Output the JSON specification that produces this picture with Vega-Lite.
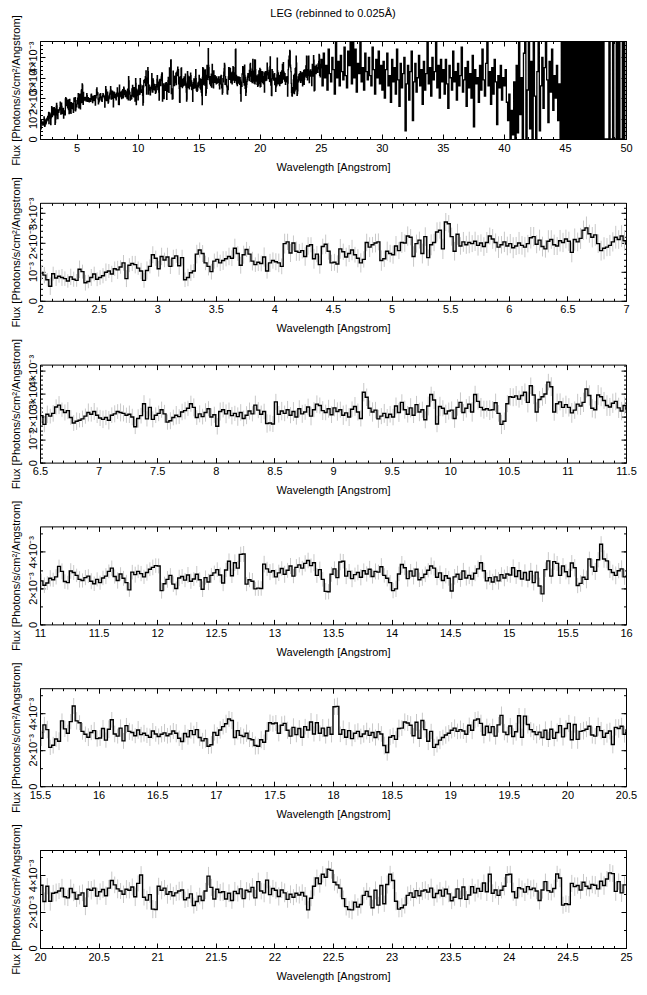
{
"$schema":"https://vega.github.io/schema/vega-lite/v6.json",
"background":"white",
"padding":{"left":9,"top":8,"right":10,"bottom":8},
"title":{"text":"LEG (rebinned to 0.025Å)","fontSize":11,"fontWeight":"normal","font":"Liberation Sans","color":"#000","anchor":"middle","frame":"group","offset":-5},
"bounds":"flush",
"spacing":63.8,
"config":{"view":{"stroke":"#000","strokeWidth":1},"axis":{"domain":false,"grid":false,"labelFont":"Liberation Sans","titleFont":"Liberation Sans","labelFontSize":11,"titleFontSize":11,"titleFontWeight":"normal","labelColor":"#000","titleColor":"#000","tickColor":"#000","labelOverlap":false,"labelFlush":false,"labelBound":false}},
"data":{"name":"d"},
"datasets":{"d":[
{"w":2.0125,"f":0.95,"e":0.25},{"w":2.0375,"f":0.88,"e":0.28},{"w":2.0625,"f":0.72,"e":0.23},{"w":2.0875,"f":0.50,"e":0.30},{"w":2.1125,"f":0.93,"e":0.24},{"w":2.1375,"f":0.78,"e":0.27},{"w":2.1625,"f":0.84,"e":0.22},{"w":2.1875,"f":0.80,"e":0.29},{"w":2.2125,"f":0.76,"e":0.25},{"w":2.2375,"f":0.68,"e":0.23},{"w":2.2625,"f":0.82,"e":0.28},{"w":2.2875,"f":0.74,"e":0.26},{"w":2.3125,"f":0.70,"e":0.22},{"w":2.3375,"f":1.08,"e":0.30},{"w":2.3625,"f":1.00,"e":0.24},{"w":2.3875,"f":0.62,"e":0.27},{"w":2.4125,"f":0.66,"e":0.23},{"w":2.4375,"f":0.80,"e":0.29},{"w":2.4625,"f":0.92,"e":0.25},{"w":2.4875,"f":0.74,"e":0.24},
{"w":2.5125,"f":0.80,"e":0.25},{"w":2.5375,"f":0.86,"e":0.26},{"w":2.5625,"f":0.98,"e":0.30},{"w":2.5875,"f":1.02,"e":0.24},{"w":2.6125,"f":0.92,"e":0.28},{"w":2.6375,"f":1.10,"e":0.25},{"w":2.6625,"f":1.06,"e":0.31},{"w":2.6875,"f":1.16,"e":0.23},{"w":2.7125,"f":1.30,"e":0.27},{"w":2.7375,"f":0.76,"e":0.29},{"w":2.7625,"f":1.22,"e":0.24},{"w":2.7875,"f":1.28,"e":0.26},{"w":2.8125,"f":1.24,"e":0.30},{"w":2.8375,"f":1.12,"e":0.23},{"w":2.8625,"f":1.02,"e":0.28},{"w":2.8875,"f":0.70,"e":0.25},{"w":2.9125,"f":1.04,"e":0.31},{"w":2.9375,"f":1.18,"e":0.24},{"w":2.9625,"f":1.58,"e":0.29},{"w":2.9875,"f":1.46,"e":0.26},
{"w":3.0125,"f":1.10,"e":0.27},{"w":3.0375,"f":1.52,"e":0.30},{"w":3.0625,"f":1.40,"e":0.25},{"w":3.0875,"f":1.50,"e":0.32},{"w":3.1125,"f":1.18,"e":0.26},{"w":3.1375,"f":1.46,"e":0.29},{"w":3.1625,"f":1.54,"e":0.24},{"w":3.1875,"f":1.20,"e":0.31},{"w":3.2125,"f":1.48,"e":0.27},{"w":3.2375,"f":0.72,"e":0.25},{"w":3.2625,"f":0.80,"e":0.30},{"w":3.2875,"f":0.96,"e":0.28},{"w":3.3125,"f":1.02,"e":0.24},{"w":3.3375,"f":1.60,"e":0.32},{"w":3.3625,"f":1.74,"e":0.26},{"w":3.3875,"f":1.62,"e":0.29},{"w":3.4125,"f":1.30,"e":0.25},{"w":3.4375,"f":1.18,"e":0.31},{"w":3.4625,"f":1.00,"e":0.27},{"w":3.4875,"f":1.36,"e":0.26},
{"w":3.5125,"f":1.42,"e":0.27},{"w":3.5375,"f":1.30,"e":0.28},{"w":3.5625,"f":1.38,"e":0.32},{"w":3.5875,"f":1.44,"e":0.26},{"w":3.6125,"f":1.52,"e":0.30},{"w":3.6375,"f":1.46,"e":0.27},{"w":3.6625,"f":1.80,"e":0.33},{"w":3.6875,"f":1.62,"e":0.25},{"w":3.7125,"f":1.22,"e":0.29},{"w":3.7375,"f":1.58,"e":0.31},{"w":3.7625,"f":1.76,"e":0.26},{"w":3.7875,"f":1.60,"e":0.28},{"w":3.8125,"f":1.36,"e":0.32},{"w":3.8375,"f":1.24,"e":0.25},{"w":3.8625,"f":1.32,"e":0.30},{"w":3.8875,"f":1.28,"e":0.27},{"w":3.9125,"f":1.50,"e":0.33},{"w":3.9375,"f":1.02,"e":0.26},{"w":3.9625,"f":1.30,"e":0.31},{"w":3.9875,"f":1.38,"e":0.28},
{"w":4.0125,"f":1.34,"e":0.29},{"w":4.0375,"f":1.30,"e":0.32},{"w":4.0625,"f":1.18,"e":0.27},{"w":4.0875,"f":1.96,"e":0.34},{"w":4.1125,"f":2.02,"e":0.28},{"w":4.1375,"f":1.64,"e":0.31},{"w":4.1625,"f":1.98,"e":0.26},{"w":4.1875,"f":1.70,"e":0.33},{"w":4.2125,"f":1.66,"e":0.29},{"w":4.2375,"f":1.72,"e":0.27},{"w":4.2625,"f":1.52,"e":0.32},{"w":4.2875,"f":1.88,"e":0.30},{"w":4.3125,"f":1.92,"e":0.26},{"w":4.3375,"f":1.44,"e":0.34},{"w":4.3625,"f":1.60,"e":0.28},{"w":4.3875,"f":1.24,"e":0.31},{"w":4.4125,"f":1.86,"e":0.27},{"w":4.4375,"f":1.94,"e":0.33},{"w":4.4625,"f":1.70,"e":0.29},{"w":4.4875,"f":1.30,"e":0.28},
{"w":4.5125,"f":1.32,"e":0.29},{"w":4.5375,"f":1.26,"e":0.30},{"w":4.5625,"f":1.78,"e":0.34},{"w":4.5875,"f":1.68,"e":0.28},{"w":4.6125,"f":1.50,"e":0.32},{"w":4.6375,"f":1.62,"e":0.29},{"w":4.6625,"f":1.74,"e":0.35},{"w":4.6875,"f":1.58,"e":0.27},{"w":4.7125,"f":1.46,"e":0.31},{"w":4.7375,"f":1.30,"e":0.33},{"w":4.7625,"f":1.42,"e":0.28},{"w":4.7875,"f":2.00,"e":0.30},{"w":4.8125,"f":1.84,"e":0.34},{"w":4.8375,"f":1.92,"e":0.27},{"w":4.8625,"f":1.98,"e":0.32},{"w":4.8875,"f":2.02,"e":0.29},{"w":4.9125,"f":1.38,"e":0.35},{"w":4.9375,"f":1.44,"e":0.28},{"w":4.9625,"f":1.70,"e":0.33},{"w":4.9875,"f":1.62,"e":0.30},
{"w":5.0125,"f":1.58,"e":0.31},{"w":5.0375,"f":1.88,"e":0.34},{"w":5.0625,"f":1.72,"e":0.29},{"w":5.0875,"f":2.00,"e":0.36},{"w":5.1125,"f":1.98,"e":0.30},{"w":5.1375,"f":2.22,"e":0.33},{"w":5.1625,"f":2.18,"e":0.28},{"w":5.1875,"f":1.52,"e":0.35},{"w":5.2125,"f":1.96,"e":0.31},{"w":5.2375,"f":2.08,"e":0.29},{"w":5.2625,"f":1.62,"e":0.34},{"w":5.2875,"f":2.20,"e":0.32},{"w":5.3125,"f":1.48,"e":0.28},{"w":5.3375,"f":1.92,"e":0.36},{"w":5.3625,"f":2.00,"e":0.30},{"w":5.3875,"f":2.36,"e":0.33},{"w":5.4125,"f":2.42,"e":0.29},{"w":5.4375,"f":1.78,"e":0.35},{"w":5.4625,"f":2.70,"e":0.31},{"w":5.4875,"f":2.64,"e":0.30},
{"w":5.5125,"f":2.20,"e":0.31},{"w":5.5375,"f":1.70,"e":0.32},{"w":5.5625,"f":2.28,"e":0.36},{"w":5.5875,"f":1.88,"e":0.30},{"w":5.6125,"f":2.02,"e":0.34},{"w":5.6375,"f":1.92,"e":0.31},{"w":5.6625,"f":2.00,"e":0.37},{"w":5.6875,"f":1.96,"e":0.29},{"w":5.7125,"f":2.04,"e":0.33},{"w":5.7375,"f":1.90,"e":0.35},{"w":5.7625,"f":1.98,"e":0.30},{"w":5.7875,"f":1.86,"e":0.32},{"w":5.8125,"f":2.00,"e":0.36},{"w":5.8375,"f":2.22,"e":0.29},{"w":5.8625,"f":2.12,"e":0.34},{"w":5.8875,"f":2.00,"e":0.31},{"w":5.9125,"f":1.84,"e":0.37},{"w":5.9375,"f":1.92,"e":0.30},{"w":5.9625,"f":2.02,"e":0.35},{"w":5.9875,"f":1.88,"e":0.32},
{"w":6.0125,"f":1.96,"e":0.33},{"w":6.0375,"f":1.82,"e":0.36},{"w":6.0625,"f":1.88,"e":0.31},{"w":6.0875,"f":1.98,"e":0.38},{"w":6.1125,"f":1.90,"e":0.32},{"w":6.1375,"f":1.84,"e":0.35},{"w":6.1625,"f":1.96,"e":0.30},{"w":6.1875,"f":2.16,"e":0.37},{"w":6.2125,"f":2.20,"e":0.33},{"w":6.2375,"f":1.94,"e":0.31},{"w":6.2625,"f":2.08,"e":0.36},{"w":6.2875,"f":1.86,"e":0.34},{"w":6.3125,"f":1.78,"e":0.30},{"w":6.3375,"f":2.04,"e":0.38},{"w":6.3625,"f":2.10,"e":0.32},{"w":6.3875,"f":1.92,"e":0.35},{"w":6.4125,"f":1.88,"e":0.31},{"w":6.4375,"f":2.06,"e":0.37},{"w":6.4625,"f":2.00,"e":0.33},{"w":6.4875,"f":2.12,"e":0.32},
{"w":6.5125,"f":2.04,"e":0.33},{"w":6.5375,"f":1.66,"e":0.34},{"w":6.5625,"f":2.10,"e":0.38},{"w":6.5875,"f":2.02,"e":0.32},{"w":6.6125,"f":2.14,"e":0.36},{"w":6.6375,"f":2.42,"e":0.33},{"w":6.6625,"f":2.50,"e":0.39},{"w":6.6875,"f":2.30,"e":0.31},{"w":6.7125,"f":2.18,"e":0.35},{"w":6.7375,"f":2.26,"e":0.37},{"w":6.7625,"f":1.96,"e":0.32},{"w":6.7875,"f":1.72,"e":0.34},{"w":6.8125,"f":1.80,"e":0.38},{"w":6.8375,"f":1.84,"e":0.31},{"w":6.8625,"f":1.90,"e":0.36},{"w":6.8875,"f":2.02,"e":0.33},{"w":6.9125,"f":2.18,"e":0.39},{"w":6.9375,"f":2.10,"e":0.32},{"w":6.9625,"f":2.22,"e":0.37},{"w":6.9875,"f":2.06,"e":0.34},
{"w":7.0125,"f":1.94,"e":0.35},{"w":7.0375,"f":1.88,"e":0.38},{"w":7.0625,"f":1.96,"e":0.33},{"w":7.0875,"f":1.84,"e":0.40},{"w":7.1125,"f":2.06,"e":0.34},{"w":7.1375,"f":2.12,"e":0.37},{"w":7.1625,"f":2.22,"e":0.32},{"w":7.1875,"f":2.18,"e":0.39},{"w":7.2125,"f":2.14,"e":0.35},{"w":7.2375,"f":2.06,"e":0.33},{"w":7.2625,"f":2.10,"e":0.38},{"w":7.2875,"f":1.98,"e":0.36},{"w":7.3125,"f":1.56,"e":0.32},{"w":7.3375,"f":1.92,"e":0.40},{"w":7.3625,"f":2.04,"e":0.34},{"w":7.3875,"f":2.56,"e":0.37},{"w":7.4125,"f":1.90,"e":0.33},{"w":7.4375,"f":2.40,"e":0.39},{"w":7.4625,"f":1.88,"e":0.35},{"w":7.4875,"f":2.06,"e":0.34},
{"w":7.5125,"f":2.14,"e":0.34},{"w":7.5375,"f":2.30,"e":0.35},{"w":7.5625,"f":2.12,"e":0.39},{"w":7.5875,"f":1.76,"e":0.33},{"w":7.6125,"f":1.82,"e":0.37},{"w":7.6375,"f":1.96,"e":0.34},{"w":7.6625,"f":2.06,"e":0.40},{"w":7.6875,"f":2.00,"e":0.32},{"w":7.7125,"f":2.20,"e":0.36},{"w":7.7375,"f":2.26,"e":0.38},{"w":7.7625,"f":2.36,"e":0.33},{"w":7.7875,"f":2.56,"e":0.35},{"w":7.8125,"f":2.40,"e":0.39},{"w":7.8375,"f":1.96,"e":0.32},{"w":7.8625,"f":2.12,"e":0.37},{"w":7.8875,"f":2.00,"e":0.34},{"w":7.9125,"f":2.18,"e":0.40},{"w":7.9375,"f":2.34,"e":0.33},{"w":7.9625,"f":1.98,"e":0.38},{"w":7.9875,"f":2.08,"e":0.35},
{"w":8.0125,"f":1.58,"e":0.36},{"w":8.0375,"f":2.22,"e":0.39},{"w":8.0625,"f":2.30,"e":0.34},{"w":8.0875,"f":2.12,"e":0.41},{"w":8.1125,"f":2.26,"e":0.35},{"w":8.1375,"f":2.04,"e":0.38},{"w":8.1625,"f":2.14,"e":0.33},{"w":8.1875,"f":2.00,"e":0.40},{"w":8.2125,"f":2.18,"e":0.36},{"w":8.2375,"f":1.92,"e":0.34},{"w":8.2625,"f":2.06,"e":0.39},{"w":8.2875,"f":2.24,"e":0.37},{"w":8.3125,"f":2.12,"e":0.33},{"w":8.3375,"f":2.50,"e":0.41},{"w":8.3625,"f":2.28,"e":0.35},{"w":8.3875,"f":2.10,"e":0.38},{"w":8.4125,"f":2.22,"e":0.34},{"w":8.4375,"f":1.70,"e":0.40},{"w":8.4625,"f":1.72,"e":0.36},{"w":8.4875,"f":1.68,"e":0.35},
{"w":8.5125,"f":2.64,"e":0.35},{"w":8.5375,"f":2.10,"e":0.36},{"w":8.5625,"f":2.24,"e":0.40},{"w":8.5875,"f":2.14,"e":0.34},{"w":8.6125,"f":2.30,"e":0.38},{"w":8.6375,"f":2.06,"e":0.35},{"w":8.6625,"f":2.22,"e":0.41},{"w":8.6875,"f":1.98,"e":0.33},{"w":8.7125,"f":2.34,"e":0.37},{"w":8.7375,"f":2.12,"e":0.39},{"w":8.7625,"f":2.20,"e":0.34},{"w":8.7875,"f":2.42,"e":0.36},{"w":8.8125,"f":2.02,"e":0.40},{"w":8.8375,"f":2.30,"e":0.33},{"w":8.8625,"f":2.54,"e":0.38},{"w":8.8875,"f":2.48,"e":0.35},{"w":8.9125,"f":2.26,"e":0.41},{"w":8.9375,"f":2.18,"e":0.34},{"w":8.9625,"f":2.34,"e":0.39},{"w":8.9875,"f":2.08,"e":0.36},
{"w":9.0125,"f":2.38,"e":0.37},{"w":9.0375,"f":2.22,"e":0.40},{"w":9.0625,"f":2.30,"e":0.35},{"w":9.0875,"f":2.06,"e":0.42},{"w":9.1125,"f":2.16,"e":0.36},{"w":9.1375,"f":1.98,"e":0.39},{"w":9.1625,"f":2.32,"e":0.34},{"w":9.1875,"f":2.44,"e":0.41},{"w":9.2125,"f":2.20,"e":0.37},{"w":9.2375,"f":1.92,"e":0.35},{"w":9.2625,"f":3.06,"e":0.40},{"w":9.2875,"f":2.84,"e":0.38},{"w":9.3125,"f":2.36,"e":0.34},{"w":9.3375,"f":2.20,"e":0.42},{"w":9.3625,"f":2.28,"e":0.36},{"w":9.3875,"f":1.90,"e":0.39},{"w":9.4125,"f":2.02,"e":0.35},{"w":9.4375,"f":2.14,"e":0.41},{"w":9.4625,"f":1.96,"e":0.37},{"w":9.4875,"f":2.10,"e":0.36},
{"w":9.5125,"f":1.98,"e":0.36},{"w":9.5375,"f":2.46,"e":0.37},{"w":9.5625,"f":2.18,"e":0.41},{"w":9.5875,"f":2.62,"e":0.35},{"w":9.6125,"f":2.30,"e":0.39},{"w":9.6375,"f":2.10,"e":0.36},{"w":9.6625,"f":2.38,"e":0.42},{"w":9.6875,"f":2.06,"e":0.34},{"w":9.7125,"f":2.52,"e":0.38},{"w":9.7375,"f":2.20,"e":0.40},{"w":9.7625,"f":2.30,"e":0.35},{"w":9.7875,"f":1.86,"e":0.37},{"w":9.8125,"f":2.46,"e":0.41},{"w":9.8375,"f":2.96,"e":0.34},{"w":9.8625,"f":2.72,"e":0.39},{"w":9.8875,"f":1.68,"e":0.36},{"w":9.9125,"f":2.44,"e":0.42},{"w":9.9375,"f":2.36,"e":0.35},{"w":9.9625,"f":2.12,"e":0.40},{"w":9.9875,"f":2.24,"e":0.37},
{"w":10.0125,"f":2.28,"e":0.38},{"w":10.0375,"f":1.92,"e":0.41},{"w":10.0625,"f":2.40,"e":0.36},{"w":10.0875,"f":2.62,"e":0.43},{"w":10.1125,"f":2.18,"e":0.37},{"w":10.1375,"f":2.36,"e":0.40},{"w":10.1625,"f":2.54,"e":0.35},{"w":10.1875,"f":2.20,"e":0.42},{"w":10.2125,"f":2.96,"e":0.38},{"w":10.2375,"f":2.66,"e":0.36},{"w":10.2625,"f":2.40,"e":0.41},{"w":10.2875,"f":2.30,"e":0.39},{"w":10.3125,"f":2.34,"e":0.35},{"w":10.3375,"f":2.28,"e":0.43},{"w":10.3625,"f":2.30,"e":0.37},{"w":10.3875,"f":2.60,"e":0.40},{"w":10.4125,"f":2.14,"e":0.36},{"w":10.4375,"f":1.66,"e":0.42},{"w":10.4625,"f":1.80,"e":0.38},{"w":10.4875,"f":2.56,"e":0.37},
{"w":10.5125,"f":2.86,"e":0.38},{"w":10.5375,"f":2.84,"e":0.39},{"w":10.5625,"f":2.90,"e":0.43},{"w":10.5875,"f":2.76,"e":0.37},{"w":10.6125,"f":2.92,"e":0.41},{"w":10.6375,"f":3.06,"e":0.38},{"w":10.6625,"f":2.62,"e":0.44},{"w":10.6875,"f":3.34,"e":0.36},{"w":10.7125,"f":2.94,"e":0.40},{"w":10.7375,"f":2.20,"e":0.42},{"w":10.7625,"f":2.74,"e":0.37},{"w":10.7875,"f":2.86,"e":0.39},{"w":10.8125,"f":2.98,"e":0.43},{"w":10.8375,"f":3.50,"e":0.36},{"w":10.8625,"f":3.30,"e":0.41},{"w":10.8875,"f":2.20,"e":0.38},{"w":10.9125,"f":2.56,"e":0.44},{"w":10.9375,"f":2.64,"e":0.37},{"w":10.9625,"f":2.40,"e":0.42},{"w":10.9875,"f":2.52,"e":0.39},
{"w":11.0125,"f":2.40,"e":0.40},{"w":11.0375,"f":2.16,"e":0.43},{"w":11.0625,"f":2.28,"e":0.38},{"w":11.0875,"f":2.54,"e":0.45},{"w":11.1125,"f":2.46,"e":0.39},{"w":11.1375,"f":2.62,"e":0.42},{"w":11.1625,"f":3.20,"e":0.37},{"w":11.1875,"f":2.92,"e":0.44},{"w":11.2125,"f":2.36,"e":0.40},{"w":11.2375,"f":2.30,"e":0.38},{"w":11.2625,"f":2.94,"e":0.43},{"w":11.2875,"f":2.86,"e":0.41},{"w":11.3125,"f":2.70,"e":0.37},{"w":11.3375,"f":2.48,"e":0.45},{"w":11.3625,"f":2.42,"e":0.39},{"w":11.3875,"f":2.58,"e":0.42},{"w":11.4125,"f":2.66,"e":0.38},{"w":11.4375,"f":2.38,"e":0.44},{"w":11.4625,"f":2.24,"e":0.40},{"w":11.4875,"f":2.48,"e":0.39},
{"w":11.5125,"f":2.30,"e":0.39},{"w":11.5375,"f":2.56,"e":0.40},{"w":11.5625,"f":2.66,"e":0.44},{"w":11.5875,"f":2.92,"e":0.38},{"w":11.6125,"f":3.10,"e":0.42},{"w":11.6375,"f":2.64,"e":0.39},{"w":11.6625,"f":2.42,"e":0.45},{"w":11.6875,"f":2.78,"e":0.37},{"w":11.7125,"f":2.54,"e":0.41},{"w":11.7375,"f":2.30,"e":0.43},{"w":11.7625,"f":1.90,"e":0.38},{"w":11.7875,"f":2.88,"e":0.40},{"w":11.8125,"f":2.74,"e":0.44},{"w":11.8375,"f":2.92,"e":0.37},{"w":11.8625,"f":2.80,"e":0.42},{"w":11.8875,"f":2.62,"e":0.39},{"w":11.9125,"f":2.86,"e":0.45},{"w":11.9375,"f":3.04,"e":0.38},{"w":11.9625,"f":3.14,"e":0.43},{"w":11.9875,"f":3.24,"e":0.40},
{"w":12.0125,"f":3.22,"e":0.41},{"w":12.0375,"f":1.86,"e":0.44},{"w":12.0625,"f":2.24,"e":0.39},{"w":12.0875,"f":2.48,"e":0.46},{"w":12.1125,"f":2.70,"e":0.40},{"w":12.1375,"f":2.22,"e":0.43},{"w":12.1625,"f":1.98,"e":0.38},{"w":12.1875,"f":2.56,"e":0.45},{"w":12.2125,"f":2.64,"e":0.41},{"w":12.2375,"f":2.44,"e":0.39},{"w":12.2625,"f":2.72,"e":0.44},{"w":12.2875,"f":2.38,"e":0.42},{"w":12.3125,"f":2.50,"e":0.38},{"w":12.3375,"f":2.76,"e":0.46},{"w":12.3625,"f":2.46,"e":0.40},{"w":12.3875,"f":1.94,"e":0.43},{"w":12.4125,"f":2.58,"e":0.39},{"w":12.4375,"f":2.34,"e":0.45},{"w":12.4625,"f":2.70,"e":0.41},{"w":12.4875,"f":2.84,"e":0.40},
{"w":12.5125,"f":3.02,"e":0.40},{"w":12.5375,"f":2.72,"e":0.41},{"w":12.5625,"f":2.28,"e":0.45},{"w":12.5875,"f":3.00,"e":0.39},{"w":12.6125,"f":3.48,"e":0.43},{"w":12.6375,"f":2.68,"e":0.40},{"w":12.6625,"f":3.40,"e":0.46},{"w":12.6875,"f":3.10,"e":0.38},{"w":12.7125,"f":3.86,"e":0.42},{"w":12.7375,"f":3.88,"e":0.44},{"w":12.7625,"f":2.22,"e":0.39},{"w":12.7875,"f":2.46,"e":0.41},{"w":12.8125,"f":2.38,"e":0.45},{"w":12.8375,"f":1.96,"e":0.38},{"w":12.8625,"f":2.00,"e":0.43},{"w":12.8875,"f":1.98,"e":0.40},{"w":12.9125,"f":3.32,"e":0.46},{"w":12.9375,"f":3.06,"e":0.39},{"w":12.9625,"f":2.88,"e":0.44},{"w":12.9875,"f":2.96,"e":0.41},
{"w":13.0125,"f":2.62,"e":0.42},{"w":13.0375,"f":2.84,"e":0.45},{"w":13.0625,"f":3.08,"e":0.40},{"w":13.0875,"f":2.76,"e":0.47},{"w":13.1125,"f":2.98,"e":0.41},{"w":13.1375,"f":3.22,"e":0.44},{"w":13.1625,"f":2.66,"e":0.39},{"w":13.1875,"f":3.14,"e":0.46},{"w":13.2125,"f":3.28,"e":0.42},{"w":13.2375,"f":3.10,"e":0.40},{"w":13.2625,"f":3.36,"e":0.45},{"w":13.2875,"f":3.52,"e":0.43},{"w":13.3125,"f":3.24,"e":0.39},{"w":13.3375,"f":3.40,"e":0.47},{"w":13.3625,"f":2.70,"e":0.41},{"w":13.3875,"f":3.02,"e":0.44},{"w":13.4125,"f":2.48,"e":0.40},{"w":13.4375,"f":1.82,"e":0.46},{"w":13.4625,"f":1.80,"e":0.42},{"w":13.4875,"f":2.76,"e":0.41},
{"w":13.5125,"f":3.06,"e":0.41},{"w":13.5375,"f":2.58,"e":0.42},{"w":13.5625,"f":3.44,"e":0.46},{"w":13.5875,"f":3.48,"e":0.40},{"w":13.6125,"f":2.66,"e":0.44},{"w":13.6375,"f":2.92,"e":0.41},{"w":13.6625,"f":2.52,"e":0.47},{"w":13.6875,"f":2.74,"e":0.39},{"w":13.7125,"f":2.86,"e":0.43},{"w":13.7375,"f":2.60,"e":0.45},{"w":13.7625,"f":2.96,"e":0.40},{"w":13.7875,"f":2.78,"e":0.42},{"w":13.8125,"f":3.04,"e":0.46},{"w":13.8375,"f":2.64,"e":0.39},{"w":13.8625,"f":2.92,"e":0.44},{"w":13.8875,"f":2.88,"e":0.41},{"w":13.9125,"f":3.18,"e":0.47},{"w":13.9375,"f":2.70,"e":0.40},{"w":13.9625,"f":2.54,"e":0.45},{"w":13.9875,"f":2.30,"e":0.42},
{"w":14.0125,"f":1.86,"e":0.42},{"w":14.0375,"f":1.96,"e":0.45},{"w":14.0625,"f":2.78,"e":0.40},{"w":14.0875,"f":3.30,"e":0.47},{"w":14.1125,"f":3.12,"e":0.41},{"w":14.1375,"f":2.52,"e":0.44},{"w":14.1625,"f":2.94,"e":0.39},{"w":14.1875,"f":2.66,"e":0.46},{"w":14.2125,"f":3.04,"e":0.42},{"w":14.2375,"f":2.46,"e":0.40},{"w":14.2625,"f":2.58,"e":0.45},{"w":14.2875,"f":2.76,"e":0.43},{"w":14.3125,"f":2.98,"e":0.39},{"w":14.3375,"f":3.22,"e":0.47},{"w":14.3625,"f":3.10,"e":0.41},{"w":14.3875,"f":2.60,"e":0.44},{"w":14.4125,"f":2.84,"e":0.40},{"w":14.4375,"f":2.42,"e":0.46},{"w":14.4625,"f":2.68,"e":0.42},{"w":14.4875,"f":2.54,"e":0.41},
{"w":14.5125,"f":1.84,"e":0.42},{"w":14.5375,"f":2.62,"e":0.43},{"w":14.5625,"f":2.76,"e":0.47},{"w":14.5875,"f":2.48,"e":0.41},{"w":14.6125,"f":2.94,"e":0.45},{"w":14.6375,"f":2.56,"e":0.42},{"w":14.6625,"f":2.70,"e":0.48},{"w":14.6875,"f":2.50,"e":0.40},{"w":14.7125,"f":2.82,"e":0.44},{"w":14.7375,"f":3.06,"e":0.46},{"w":14.7625,"f":3.40,"e":0.41},{"w":14.7875,"f":2.96,"e":0.43},{"w":14.8125,"f":2.40,"e":0.47},{"w":14.8375,"f":2.58,"e":0.40},{"w":14.8625,"f":2.34,"e":0.45},{"w":14.8875,"f":2.62,"e":0.42},{"w":14.9125,"f":2.40,"e":0.48},{"w":14.9375,"f":2.74,"e":0.41},{"w":14.9625,"f":2.56,"e":0.46},{"w":14.9875,"f":2.78,"e":0.43},
{"w":15.0125,"f":2.72,"e":0.43},{"w":15.0375,"f":3.12,"e":0.46},{"w":15.0625,"f":2.64,"e":0.41},{"w":15.0875,"f":2.96,"e":0.48},{"w":15.1125,"f":2.50,"e":0.42},{"w":15.1375,"f":2.86,"e":0.45},{"w":15.1625,"f":2.44,"e":0.40},{"w":15.1875,"f":2.92,"e":0.47},{"w":15.2125,"f":2.30,"e":0.43},{"w":15.2375,"f":2.88,"e":0.41},{"w":15.2625,"f":2.12,"e":0.46},{"w":15.2875,"f":1.68,"e":0.44},{"w":15.3125,"f":3.02,"e":0.40},{"w":15.3375,"f":3.50,"e":0.48},{"w":15.3625,"f":2.66,"e":0.42},{"w":15.3875,"f":3.46,"e":0.45},{"w":15.4125,"f":3.36,"e":0.41},{"w":15.4375,"f":2.70,"e":0.47},{"w":15.4625,"f":3.22,"e":0.43},{"w":15.4875,"f":2.90,"e":0.42},
{"w":15.5125,"f":2.64,"e":0.43},{"w":15.5375,"f":3.38,"e":0.44},{"w":15.5625,"f":3.12,"e":0.48},{"w":15.5875,"f":2.14,"e":0.42},{"w":15.6125,"f":2.26,"e":0.46},{"w":15.6375,"f":2.60,"e":0.43},{"w":15.6625,"f":2.48,"e":0.49},{"w":15.6875,"f":3.60,"e":0.41},{"w":15.7125,"f":3.16,"e":0.45},{"w":15.7375,"f":2.92,"e":0.47},{"w":15.7625,"f":3.56,"e":0.42},{"w":15.7875,"f":4.42,"e":0.44},{"w":15.8125,"f":3.60,"e":0.48},{"w":15.8375,"f":3.50,"e":0.41},{"w":15.8625,"f":3.02,"e":0.46},{"w":15.8875,"f":2.86,"e":0.43},{"w":15.9125,"f":2.70,"e":0.49},{"w":15.9375,"f":2.96,"e":0.42},{"w":15.9625,"f":3.06,"e":0.47},{"w":15.9875,"f":2.62,"e":0.44},
{"w":16.0125,"f":2.66,"e":0.44},{"w":16.0375,"f":3.18,"e":0.47},{"w":16.0625,"f":2.54,"e":0.42},{"w":16.0875,"f":3.14,"e":0.49},{"w":16.1125,"f":3.66,"e":0.43},{"w":16.1375,"f":2.88,"e":0.46},{"w":16.1625,"f":2.76,"e":0.41},{"w":16.1875,"f":3.20,"e":0.48},{"w":16.2125,"f":2.50,"e":0.44},{"w":16.2375,"f":3.34,"e":0.42},{"w":16.2625,"f":3.02,"e":0.47},{"w":16.2875,"f":2.96,"e":0.45},{"w":16.3125,"f":2.78,"e":0.41},{"w":16.3375,"f":3.10,"e":0.49},{"w":16.3625,"f":2.84,"e":0.43},{"w":16.3875,"f":2.92,"e":0.46},{"w":16.4125,"f":2.80,"e":0.42},{"w":16.4375,"f":2.70,"e":0.48},{"w":16.4625,"f":3.04,"e":0.44},{"w":16.4875,"f":2.88,"e":0.43},
{"w":16.5125,"f":2.74,"e":0.44},{"w":16.5375,"f":2.86,"e":0.45},{"w":16.5625,"f":2.94,"e":0.49},{"w":16.5875,"f":2.78,"e":0.43},{"w":16.6125,"f":2.88,"e":0.47},{"w":16.6375,"f":3.04,"e":0.44},{"w":16.6625,"f":2.92,"e":0.50},{"w":16.6875,"f":2.64,"e":0.42},{"w":16.7125,"f":2.46,"e":0.46},{"w":16.7375,"f":2.90,"e":0.48},{"w":16.7625,"f":2.72,"e":0.43},{"w":16.7875,"f":3.06,"e":0.45},{"w":16.8125,"f":2.84,"e":0.49},{"w":16.8375,"f":3.12,"e":0.42},{"w":16.8625,"f":2.68,"e":0.47},{"w":16.8875,"f":2.50,"e":0.44},{"w":16.9125,"f":2.62,"e":0.50},{"w":16.9375,"f":2.20,"e":0.43},{"w":16.9625,"f":2.28,"e":0.48},{"w":16.9875,"f":2.96,"e":0.45},
{"w":17.0125,"f":2.80,"e":0.45},{"w":17.0375,"f":3.10,"e":0.48},{"w":17.0625,"f":3.28,"e":0.43},{"w":17.0875,"f":3.44,"e":0.50},{"w":17.1125,"f":3.70,"e":0.44},{"w":17.1375,"f":3.62,"e":0.47},{"w":17.1625,"f":2.68,"e":0.42},{"w":17.1875,"f":3.06,"e":0.49},{"w":17.2125,"f":2.80,"e":0.45},{"w":17.2375,"f":2.74,"e":0.43},{"w":17.2625,"f":2.92,"e":0.48},{"w":17.2875,"f":2.62,"e":0.46},{"w":17.3125,"f":2.56,"e":0.42},{"w":17.3375,"f":2.24,"e":0.50},{"w":17.3625,"f":2.20,"e":0.44},{"w":17.3875,"f":2.56,"e":0.47},{"w":17.4125,"f":2.42,"e":0.43},{"w":17.4375,"f":3.04,"e":0.49},{"w":17.4625,"f":3.50,"e":0.45},{"w":17.4875,"f":3.44,"e":0.44},
{"w":17.5125,"f":3.48,"e":0.44},{"w":17.5375,"f":2.92,"e":0.45},{"w":17.5625,"f":3.36,"e":0.49},{"w":17.5875,"f":3.46,"e":0.43},{"w":17.6125,"f":3.08,"e":0.47},{"w":17.6375,"f":2.76,"e":0.44},{"w":17.6625,"f":3.24,"e":0.50},{"w":17.6875,"f":2.84,"e":0.42},{"w":17.7125,"f":3.18,"e":0.46},{"w":17.7375,"f":2.70,"e":0.48},{"w":17.7625,"f":3.28,"e":0.43},{"w":17.7875,"f":3.10,"e":0.45},{"w":17.8125,"f":3.54,"e":0.49},{"w":17.8375,"f":2.88,"e":0.42},{"w":17.8625,"f":3.50,"e":0.47},{"w":17.8875,"f":2.92,"e":0.44},{"w":17.9125,"f":3.20,"e":0.50},{"w":17.9375,"f":2.78,"e":0.43},{"w":17.9625,"f":3.24,"e":0.48},{"w":17.9875,"f":2.86,"e":0.45},
{"w":18.0125,"f":4.38,"e":0.45},{"w":18.0375,"f":4.40,"e":0.48},{"w":18.0625,"f":2.86,"e":0.43},{"w":18.0875,"f":3.12,"e":0.50},{"w":18.1125,"f":2.70,"e":0.44},{"w":18.1375,"f":3.06,"e":0.47},{"w":18.1625,"f":2.62,"e":0.42},{"w":18.1875,"f":2.92,"e":0.49},{"w":18.2125,"f":3.02,"e":0.45},{"w":18.2375,"f":2.74,"e":0.43},{"w":18.2625,"f":2.88,"e":0.48},{"w":18.2875,"f":3.04,"e":0.46},{"w":18.3125,"f":2.80,"e":0.42},{"w":18.3375,"f":2.96,"e":0.50},{"w":18.3625,"f":2.68,"e":0.44},{"w":18.3875,"f":3.00,"e":0.47},{"w":18.4125,"f":2.88,"e":0.43},{"w":18.4375,"f":2.24,"e":0.49},{"w":18.4625,"f":1.86,"e":0.45},{"w":18.4875,"f":2.70,"e":0.44},
{"w":18.5125,"f":2.78,"e":0.44},{"w":18.5375,"f":2.58,"e":0.45},{"w":18.5625,"f":3.18,"e":0.49},{"w":18.5875,"f":3.20,"e":0.43},{"w":18.6125,"f":3.54,"e":0.47},{"w":18.6375,"f":3.48,"e":0.44},{"w":18.6625,"f":3.36,"e":0.50},{"w":18.6875,"f":2.78,"e":0.42},{"w":18.7125,"f":3.52,"e":0.46},{"w":18.7375,"f":2.64,"e":0.48},{"w":18.7625,"f":3.62,"e":0.43},{"w":18.7875,"f":3.12,"e":0.45},{"w":18.8125,"f":2.48,"e":0.49},{"w":18.8375,"f":3.02,"e":0.42},{"w":18.8625,"f":2.14,"e":0.47},{"w":18.8875,"f":2.30,"e":0.44},{"w":18.9125,"f":2.54,"e":0.50},{"w":18.9375,"f":2.68,"e":0.43},{"w":18.9625,"f":2.82,"e":0.48},{"w":18.9875,"f":2.92,"e":0.45},
{"w":19.0125,"f":3.08,"e":0.45},{"w":19.0375,"f":3.20,"e":0.48},{"w":19.0625,"f":3.02,"e":0.43},{"w":19.0875,"f":3.12,"e":0.50},{"w":19.1125,"f":3.04,"e":0.44},{"w":19.1375,"f":2.86,"e":0.47},{"w":19.1625,"f":3.36,"e":0.42},{"w":19.1875,"f":3.08,"e":0.49},{"w":19.2125,"f":3.64,"e":0.45},{"w":19.2375,"f":3.70,"e":0.43},{"w":19.2625,"f":3.46,"e":0.48},{"w":19.2875,"f":2.82,"e":0.46},{"w":19.3125,"f":3.30,"e":0.42},{"w":19.3375,"f":2.96,"e":0.50},{"w":19.3625,"f":3.28,"e":0.44},{"w":19.3875,"f":2.76,"e":0.47},{"w":19.4125,"f":3.38,"e":0.43},{"w":19.4375,"f":3.90,"e":0.49},{"w":19.4625,"f":2.98,"e":0.45},{"w":19.4875,"f":2.84,"e":0.44},
{"w":19.5125,"f":3.32,"e":0.44},{"w":19.5375,"f":2.74,"e":0.45},{"w":19.5625,"f":3.00,"e":0.49},{"w":19.5875,"f":3.88,"e":0.43},{"w":19.6125,"f":2.70,"e":0.47},{"w":19.6375,"f":3.86,"e":0.44},{"w":19.6625,"f":3.40,"e":0.50},{"w":19.6875,"f":3.12,"e":0.42},{"w":19.7125,"f":3.00,"e":0.46},{"w":19.7375,"f":2.84,"e":0.48},{"w":19.7625,"f":2.98,"e":0.43},{"w":19.7875,"f":2.68,"e":0.45},{"w":19.8125,"f":3.08,"e":0.49},{"w":19.8375,"f":2.58,"e":0.42},{"w":19.8625,"f":3.14,"e":0.47},{"w":19.8875,"f":2.64,"e":0.44},{"w":19.9125,"f":2.96,"e":0.50},{"w":19.9375,"f":3.34,"e":0.43},{"w":19.9625,"f":2.72,"e":0.48},{"w":19.9875,"f":3.18,"e":0.45},
{"w":20.0125,"f":3.46,"e":0.47},{"w":20.0375,"f":2.56,"e":0.50},{"w":20.0625,"f":3.40,"e":0.45},{"w":20.0875,"f":2.58,"e":0.52},{"w":20.1125,"f":3.02,"e":0.46},{"w":20.1375,"f":3.06,"e":0.49},{"w":20.1625,"f":3.14,"e":0.44},{"w":20.1875,"f":3.30,"e":0.51},{"w":20.2125,"f":2.82,"e":0.47},{"w":20.2375,"f":2.76,"e":0.45},{"w":20.2625,"f":3.28,"e":0.50},{"w":20.2875,"f":3.06,"e":0.48},{"w":20.3125,"f":2.70,"e":0.44},{"w":20.3375,"f":2.92,"e":0.52},{"w":20.3625,"f":3.04,"e":0.46},{"w":20.3875,"f":2.30,"e":0.49},{"w":20.4125,"f":3.24,"e":0.45},{"w":20.4375,"f":3.18,"e":0.51},{"w":20.4625,"f":3.30,"e":0.47},{"w":20.4875,"f":2.86,"e":0.46},
{"w":20.5125,"f":3.10,"e":0.46},{"w":20.5375,"f":3.22,"e":0.47},{"w":20.5625,"f":2.88,"e":0.51},{"w":20.5875,"f":3.30,"e":0.45},{"w":20.6125,"f":3.72,"e":0.49},{"w":20.6375,"f":3.48,"e":0.46},{"w":20.6625,"f":3.26,"e":0.52},{"w":20.6875,"f":3.14,"e":0.44},{"w":20.7125,"f":2.96,"e":0.48},{"w":20.7375,"f":3.24,"e":0.50},{"w":20.7625,"f":3.18,"e":0.45},{"w":20.7875,"f":3.36,"e":0.47},{"w":20.8125,"f":2.82,"e":0.51},{"w":20.8375,"f":3.56,"e":0.44},{"w":20.8625,"f":4.02,"e":0.49},{"w":20.8875,"f":2.80,"e":0.46},{"w":20.9125,"f":2.64,"e":0.52},{"w":20.9375,"f":2.94,"e":0.45},{"w":20.9625,"f":2.14,"e":0.50},{"w":20.9875,"f":2.12,"e":0.47},
{"w":21.0125,"f":3.40,"e":0.47},{"w":21.0375,"f":3.18,"e":0.50},{"w":21.0625,"f":3.30,"e":0.45},{"w":21.0875,"f":2.96,"e":0.52},{"w":21.1125,"f":3.10,"e":0.46},{"w":21.1375,"f":2.88,"e":0.49},{"w":21.1625,"f":3.04,"e":0.44},{"w":21.1875,"f":3.14,"e":0.51},{"w":21.2125,"f":3.20,"e":0.47},{"w":21.2375,"f":2.66,"e":0.45},{"w":21.2625,"f":2.76,"e":0.50},{"w":21.2875,"f":2.98,"e":0.48},{"w":21.3125,"f":2.34,"e":0.44},{"w":21.3375,"f":2.56,"e":0.52},{"w":21.3625,"f":2.86,"e":0.46},{"w":21.3875,"f":2.62,"e":0.49},{"w":21.4125,"f":3.14,"e":0.45},{"w":21.4375,"f":3.96,"e":0.51},{"w":21.4625,"f":3.34,"e":0.47},{"w":21.4875,"f":2.70,"e":0.46},
{"w":21.5125,"f":3.24,"e":0.46},{"w":21.5375,"f":3.06,"e":0.47},{"w":21.5625,"f":3.10,"e":0.51},{"w":21.5875,"f":2.70,"e":0.45},{"w":21.6125,"f":3.02,"e":0.49},{"w":21.6375,"f":2.62,"e":0.46},{"w":21.6625,"f":3.12,"e":0.52},{"w":21.6875,"f":3.00,"e":0.44},{"w":21.7125,"f":3.26,"e":0.48},{"w":21.7375,"f":2.72,"e":0.50},{"w":21.7625,"f":3.18,"e":0.45},{"w":21.7875,"f":3.10,"e":0.47},{"w":21.8125,"f":3.34,"e":0.51},{"w":21.8375,"f":2.76,"e":0.44},{"w":21.8625,"f":3.66,"e":0.49},{"w":21.8875,"f":3.14,"e":0.46},{"w":21.9125,"f":3.04,"e":0.52},{"w":21.9375,"f":3.74,"e":0.45},{"w":21.9625,"f":2.94,"e":0.50},{"w":21.9875,"f":3.28,"e":0.47},
{"w":22.0125,"f":3.18,"e":0.47},{"w":22.0375,"f":2.84,"e":0.50},{"w":22.0625,"f":3.20,"e":0.45},{"w":22.0875,"f":3.04,"e":0.52},{"w":22.1125,"f":2.68,"e":0.46},{"w":22.1375,"f":2.96,"e":0.49},{"w":22.1625,"f":2.80,"e":0.44},{"w":22.1875,"f":3.02,"e":0.51},{"w":22.2125,"f":2.92,"e":0.47},{"w":22.2375,"f":3.06,"e":0.45},{"w":22.2625,"f":2.86,"e":0.50},{"w":22.2875,"f":2.10,"e":0.48},{"w":22.3125,"f":2.74,"e":0.44},{"w":22.3375,"f":3.40,"e":0.52},{"w":22.3625,"f":3.86,"e":0.46},{"w":22.3875,"f":3.54,"e":0.49},{"w":22.4125,"f":4.06,"e":0.45},{"w":22.4375,"f":3.90,"e":0.51},{"w":22.4625,"f":4.34,"e":0.47},{"w":22.4875,"f":4.28,"e":0.46},
{"w":22.5125,"f":3.62,"e":0.46},{"w":22.5375,"f":3.48,"e":0.47},{"w":22.5625,"f":3.30,"e":0.51},{"w":22.5875,"f":2.72,"e":0.45},{"w":22.6125,"f":2.28,"e":0.49},{"w":22.6375,"f":2.12,"e":0.46},{"w":22.6625,"f":2.10,"e":0.52},{"w":22.6875,"f":2.52,"e":0.44},{"w":22.7125,"f":2.26,"e":0.48},{"w":22.7375,"f":2.40,"e":0.50},{"w":22.7625,"f":2.90,"e":0.45},{"w":22.7875,"f":3.12,"e":0.47},{"w":22.8125,"f":2.84,"e":0.51},{"w":22.8375,"f":2.22,"e":0.44},{"w":22.8625,"f":3.18,"e":0.49},{"w":22.8875,"f":2.36,"e":0.46},{"w":22.9125,"f":3.44,"e":0.52},{"w":22.9375,"f":2.44,"e":0.45},{"w":22.9625,"f":3.50,"e":0.50},{"w":22.9875,"f":4.06,"e":0.47},
{"w":23.0125,"f":3.72,"e":0.47},{"w":23.0375,"f":2.58,"e":0.50},{"w":23.0625,"f":2.14,"e":0.45},{"w":23.0875,"f":2.22,"e":0.52},{"w":23.1125,"f":2.36,"e":0.46},{"w":23.1375,"f":2.90,"e":0.49},{"w":23.1625,"f":3.04,"e":0.44},{"w":23.1875,"f":2.80,"e":0.51},{"w":23.2125,"f":3.16,"e":0.47},{"w":23.2375,"f":2.88,"e":0.45},{"w":23.2625,"f":3.14,"e":0.50},{"w":23.2875,"f":3.20,"e":0.48},{"w":23.3125,"f":3.08,"e":0.44},{"w":23.3375,"f":3.30,"e":0.52},{"w":23.3625,"f":2.78,"e":0.46},{"w":23.3875,"f":3.00,"e":0.49},{"w":23.4125,"f":3.18,"e":0.45},{"w":23.4375,"f":2.86,"e":0.51},{"w":23.4625,"f":3.24,"e":0.47},{"w":23.4875,"f":2.98,"e":0.46},
{"w":23.5125,"f":2.60,"e":0.46},{"w":23.5375,"f":2.80,"e":0.47},{"w":23.5625,"f":3.26,"e":0.51},{"w":23.5875,"f":2.72,"e":0.45},{"w":23.6125,"f":3.36,"e":0.49},{"w":23.6375,"f":2.68,"e":0.46},{"w":23.6625,"f":2.92,"e":0.52},{"w":23.6875,"f":3.38,"e":0.44},{"w":23.7125,"f":3.04,"e":0.48},{"w":23.7375,"f":3.28,"e":0.50},{"w":23.7625,"f":3.12,"e":0.45},{"w":23.7875,"f":3.58,"e":0.47},{"w":23.8125,"f":3.10,"e":0.51},{"w":23.8375,"f":4.06,"e":0.44},{"w":23.8625,"f":3.02,"e":0.49},{"w":23.8875,"f":3.20,"e":0.46},{"w":23.9125,"f":2.90,"e":0.52},{"w":23.9375,"f":3.18,"e":0.45},{"w":23.9625,"f":3.40,"e":0.50},{"w":23.9875,"f":4.04,"e":0.47},
{"w":24.0125,"f":4.06,"e":0.47},{"w":24.0375,"f":3.10,"e":0.50},{"w":24.0625,"f":2.76,"e":0.45},{"w":24.0875,"f":3.32,"e":0.52},{"w":24.1125,"f":3.26,"e":0.46},{"w":24.1375,"f":3.08,"e":0.49},{"w":24.1625,"f":3.38,"e":0.44},{"w":24.1875,"f":3.22,"e":0.51},{"w":24.2125,"f":3.30,"e":0.47},{"w":24.2375,"f":3.14,"e":0.45},{"w":24.2625,"f":2.62,"e":0.50},{"w":24.2875,"f":3.20,"e":0.48},{"w":24.3125,"f":3.66,"e":0.44},{"w":24.3375,"f":3.16,"e":0.52},{"w":24.3625,"f":3.08,"e":0.46},{"w":24.3875,"f":3.28,"e":0.49},{"w":24.4125,"f":4.08,"e":0.45},{"w":24.4375,"f":3.86,"e":0.51},{"w":24.4625,"f":2.36,"e":0.47},{"w":24.4875,"f":2.44,"e":0.46},
{"w":24.5125,"f":2.40,"e":0.46},{"w":24.5375,"f":3.56,"e":0.47},{"w":24.5625,"f":3.38,"e":0.51},{"w":24.5875,"f":3.44,"e":0.45},{"w":24.6125,"f":3.20,"e":0.49},{"w":24.6375,"f":3.62,"e":0.46},{"w":24.6625,"f":3.40,"e":0.52},{"w":24.6875,"f":3.28,"e":0.44},{"w":24.7125,"f":3.50,"e":0.48},{"w":24.7375,"f":3.46,"e":0.50},{"w":24.7625,"f":3.26,"e":0.45},{"w":24.7875,"f":3.68,"e":0.47},{"w":24.8125,"f":3.44,"e":0.51},{"w":24.8375,"f":3.80,"e":0.44},{"w":24.8625,"f":4.14,"e":0.49},{"w":24.8875,"f":4.10,"e":0.46},{"w":24.9125,"f":3.12,"e":0.52},{"w":24.9375,"f":3.66,"e":0.45},{"w":24.9625,"f":3.04,"e":0.50},{"w":24.9875,"f":3.48,"e":0.47},
{"w":25.05,"f":3.9},{"w":25.15,"f":2.6},{"w":25.25,"f":4.2},{"w":25.35,"f":3.0},{"w":25.45,"f":3.6},{"w":25.55,"f":2.4},{"w":25.65,"f":4.4},{"w":25.75,"f":3.2},{"w":25.85,"f":2.8},{"w":25.95,"f":4.0},{"w":26.05,"f":3.4},{"w":26.15,"f":2.2},{"w":26.25,"f":5.5},{"w":26.35,"f":3.0},{"w":26.45,"f":3.8},{"w":26.55,"f":2.6},{"w":26.65,"f":4.1},{"w":26.75,"f":3.3},{"w":26.85,"f":2.9},{"w":26.95,"f":4.5},{"w":27.05,"f":3.1},{"w":27.15,"f":2.5},{"w":27.25,"f":4.3},{"w":27.35,"f":3.6},{"w":27.45,"f":5.2},{"w":27.55,"f":2.7},{"w":27.65,"f":5.4},{"w":27.75,"f":3.0},{"w":27.85,"f":4.4},{"w":27.95,"f":2.3},{"w":28.05,"f":3.7},{"w":28.15,"f":3.2},{"w":28.25,"f":5.3},{"w":28.35,"f":2.8},{"w":28.45,"f":3.5},{"w":28.55,"f":2.4},{"w":28.65,"f":4.2},{"w":28.75,"f":3.3},{"w":28.85,"f":2.9},{"w":28.95,"f":4.0},{"w":29.05,"f":3.1},{"w":29.15,"f":2.6},{"w":29.25,"f":4.5},{"w":29.35,"f":3.4},{"w":29.45,"f":2.2},{"w":29.55,"f":3.9},{"w":29.65,"f":3.0},{"w":29.75,"f":4.3},{"w":29.85,"f":2.7},{"w":29.95,"f":3.6},
{"w":30.05,"f":2.4},{"w":30.15,"f":3.8},{"w":30.25,"f":2.0},{"w":30.35,"f":3.4},{"w":30.45,"f":4.2},{"w":30.55,"f":2.6},{"w":30.65,"f":3.1},{"w":30.75,"f":1.8},{"w":30.85,"f":3.9},{"w":30.95,"f":2.8},{"w":31.05,"f":3.5},{"w":31.15,"f":2.2},{"w":31.25,"f":4.4},{"w":31.35,"f":2.9},{"w":31.45,"f":1.6},{"w":31.55,"f":3.7},{"w":31.65,"f":2.5},{"w":31.75,"f":3.2},{"w":31.85,"f":4.0},{"w":31.95,"f":0.4},{"w":32.05,"f":2.7},{"w":32.15,"f":3.6},{"w":32.25,"f":1.9},{"w":32.35,"f":3.3},{"w":32.45,"f":4.3},{"w":32.55,"f":0.9},{"w":32.65,"f":2.8},{"w":32.75,"f":3.7},{"w":32.85,"f":2.3},{"w":32.95,"f":3.0},{"w":33.05,"f":4.1},{"w":33.15,"f":2.6},{"w":33.25,"f":3.4},{"w":33.35,"f":1.7},{"w":33.45,"f":3.8},{"w":33.55,"f":2.4},{"w":33.65,"f":3.2},{"w":33.75,"f":5.3},{"w":33.85,"f":2.7},{"w":33.95,"f":3.5},{"w":34.05,"f":2.1},{"w":34.15,"f":4.0},{"w":34.25,"f":2.9},{"w":34.35,"f":3.3},{"w":34.45,"f":5.1},{"w":34.55,"f":2.5},{"w":34.65,"f":3.6},{"w":34.75,"f":2.0},{"w":34.85,"f":3.9},{"w":34.95,"f":2.8},
{"w":35.05,"f":3.4},{"w":35.15,"f":2.2},{"w":35.25,"f":3.9},{"w":35.35,"f":2.7},{"w":35.45,"f":1.5},{"w":35.55,"f":3.6},{"w":35.65,"f":3.0},{"w":35.75,"f":2.4},{"w":35.85,"f":4.3},{"w":35.95,"f":2.8},{"w":36.05,"f":3.3},{"w":36.15,"f":1.9},{"w":36.25,"f":3.7},{"w":36.35,"f":2.6},{"w":36.45,"f":3.1},{"w":36.55,"f":4.5},{"w":36.65,"f":2.3},{"w":36.75,"f":2.9},{"w":36.85,"f":3.5},{"w":36.95,"f":1.6},{"w":37.05,"f":3.8},{"w":37.15,"f":2.5},{"w":37.25,"f":3.2},{"w":37.35,"f":2.0},{"w":37.45,"f":4.1},{"w":37.55,"f":0.6},{"w":37.65,"f":3.4},{"w":37.75,"f":2.7},{"w":37.85,"f":3.0},{"w":37.95,"f":1.8},{"w":38.05,"f":3.6},{"w":38.15,"f":2.4},{"w":38.25,"f":4.4},{"w":38.35,"f":2.9},{"w":38.45,"f":2.1},{"w":38.55,"f":3.7},{"w":38.65,"f":5.0},{"w":38.75,"f":2.6},{"w":38.85,"f":3.3},{"w":38.95,"f":1.7},{"w":39.05,"f":3.5},{"w":39.15,"f":2.2},{"w":39.25,"f":3.9},{"w":39.35,"f":2.8},{"w":39.45,"f":0.7},{"w":39.55,"f":3.1},{"w":39.65,"f":2.5},{"w":39.75,"f":3.6},{"w":39.85,"f":1.9},{"w":39.95,"f":3.0},
{"w":40.05,"f":2.6},{"w":40.15,"f":3.4},{"w":40.25,"f":1.8},{"w":40.35,"f":0.9},{"w":40.45,"f":2.2},{"w":40.55,"f":0.0},{"w":40.65,"f":1.4},{"w":40.75,"f":0.2},{"w":40.85,"f":2.8},{"w":40.95,"f":0.0},{"w":41.05,"f":3.6},{"w":41.15,"f":0.3},{"w":41.25,"f":6.0},{"w":41.35,"f":1.2},{"w":41.45,"f":3.0},{"w":41.55,"f":0.0},{"w":41.65,"f":4.2},{"w":41.75,"f":6.0},{"w":41.85,"f":0.0},{"w":41.95,"f":2.4},{"w":42.05,"f":6.0},{"w":42.15,"f":0.5},{"w":42.25,"f":3.8},{"w":42.35,"f":0.0},{"w":42.45,"f":6.0},{"w":42.55,"f":2.1},{"w":42.65,"f":0.0},{"w":42.75,"f":3.3},{"w":42.85,"f":6.0},{"w":42.95,"f":0.4},{"w":43.05,"f":2.6},{"w":43.15,"f":4.0},{"w":43.25,"f":1.5},{"w":43.35,"f":3.5},{"w":43.45,"f":6.0},{"w":43.55,"f":2.9},{"w":43.65,"f":0.8},{"w":43.75,"f":3.8},{"w":43.85,"f":2.3},{"w":43.95,"f":4.4},{"w":44.05,"f":1.4},{"w":44.15,"f":3.1},{"w":44.25,"f":2.0},{"w":44.35,"f":3.6},{"w":44.45,"f":0.9},{"w":44.55,"f":2.7},{"w":44.65,"f":0.0},{"w":44.75,"f":9.0},{"w":44.85,"f":0.0},{"w":44.95,"f":9.0},
{"w":45.05,"f":0},{"w":45.15,"f":9},{"w":45.25,"f":0},{"w":45.35,"f":9},{"w":45.45,"f":0},{"w":45.55,"f":9},{"w":45.65,"f":0},{"w":45.75,"f":9},{"w":45.85,"f":0},{"w":45.95,"f":9},{"w":46.05,"f":0},{"w":46.15,"f":9},{"w":46.25,"f":0},{"w":46.35,"f":9},{"w":46.45,"f":0},{"w":46.55,"f":9},{"w":46.65,"f":0},{"w":46.75,"f":9},{"w":46.85,"f":0},{"w":46.95,"f":9},{"w":47.05,"f":0},{"w":47.15,"f":9},{"w":47.25,"f":0},{"w":47.35,"f":9},{"w":47.45,"f":0},{"w":47.55,"f":9},{"w":47.65,"f":0},{"w":47.75,"f":9},{"w":47.85,"f":0},{"w":47.95,"f":9},{"w":48.05,"f":0},{"w":48.15,"f":9},{"w":48.25,"f":0},{"w":48.35,"f":0},{"w":48.45,"f":0},{"w":48.55,"f":0},{"w":48.65,"f":9},{"w":48.75,"f":0},{"w":48.85,"f":0},{"w":48.95,"f":9},{"w":49.05,"f":0},{"w":49.15,"f":0},{"w":49.25,"f":9},{"w":49.35,"f":0},{"w":49.45,"f":9},{"w":49.55,"f":0},{"w":49.65,"f":0},{"w":49.75,"f":9},{"w":49.85,"f":0},{"w":49.95,"f":9}
]},
"vconcat":[
{"width":586,"height":98,
 "resolve":{"axis":{"x":"independent","y":"independent"}},
 "layer":[
  {"mark":{"type":"line","interpolate":"step","color":"#000","strokeWidth":1.3,"clip":true},
   "encoding":{
    "x":{"field":"w","type":"quantitative","scale":{"domain":[2,50],"nice":false,"zero":false},"axis":{"orient":"bottom","values":[5,10,15,20,25,30,35,40,45,50],"ticks":false,"labelPadding":3,"labelExpr":"''+datum.value","title":"Wavelength [Angstrom]","titlePadding":8}},
    "y":{"field":"f","type":"quantitative","scale":{"domain":[0,4.8],"nice":false,"zero":false},"axis":{"orient":"left","values":[0,1,2,3,4],"ticks":false,"labelAngle":270,"labelAlign":"center","labelBaseline":"bottom","labelPadding":2,"labelExpr":"datum.value==0?'0':datum.value==1?'10⁻³':datum.value+'×10⁻³'","title":"Flux [Photons/s/cm²/Angstrom]","titlePadding":6}}}},
  {"mark":{"type":"line","strokeOpacity":0,"clip":true},"encoding":{"x":{"field":"w","type":"quantitative","axis":{"orient":"bottom","values":[5,10,15,20,25,30,35,40,45,50],"labels":false,"tickSize":-5,"title":null}},"y":{"field":"f","type":"quantitative","axis":{"orient":"left","values":[0,1,2,3,4],"labels":false,"tickSize":-5,"title":null}}}},
  {"mark":{"type":"line","strokeOpacity":0,"clip":true},"encoding":{"x":{"field":"w","type":"quantitative","axis":{"orient":"bottom","tickCount":48,"labels":false,"tickSize":-2.5,"title":null}},"y":{"field":"f","type":"quantitative","axis":{"orient":"left","tickCount":24,"labels":false,"tickSize":-2.5,"title":null}}}},
  {"mark":{"type":"line","strokeOpacity":0,"clip":true},"encoding":{"x":{"field":"w","type":"quantitative","axis":{"orient":"top","values":[5,10,15,20,25,30,35,40,45,50],"labels":false,"tickSize":-5,"title":null}},"y":{"field":"f","type":"quantitative","axis":{"orient":"right","values":[0,1,2,3,4],"labels":false,"tickSize":-5,"title":null}}}},
  {"mark":{"type":"line","strokeOpacity":0,"clip":true},"encoding":{"x":{"field":"w","type":"quantitative","axis":{"orient":"top","tickCount":48,"labels":false,"tickSize":-2.5,"title":null}},"y":{"field":"f","type":"quantitative","axis":{"orient":"right","tickCount":24,"labels":false,"tickSize":-2.5,"title":null}}}}
 ]},
{"width":586,"height":98,
 "transform":[{"filter":{"field":"w","range":[1.98,7.03]}}],
 "resolve":{"axis":{"x":"independent","y":"independent"}},
 "layer":[
  {"transform":[{"filter":{"field":"w","range":[2,7]}}],
   "mark":{"type":"errorbar","color":"#c8c8c8","thickness":1},
   "encoding":{
    "x":{"field":"w","type":"quantitative","scale":{"domain":[2,7],"nice":false,"zero":false},"axis":{"orient":"bottom","values":[2,2.5,3,3.5,4,4.5,5,5.5,6,6.5,7],"ticks":false,"labelPadding":3,"labelExpr":"''+datum.value","title":"Wavelength [Angstrom]","titlePadding":8}},
    "y":{"field":"f","type":"quantitative","scale":{"domain":[0,3.36],"nice":false,"zero":false},"axis":{"orient":"left","values":[0,1,2,3],"ticks":false,"labelAngle":270,"labelAlign":"center","labelBaseline":"bottom","labelPadding":2,"labelExpr":"datum.value==0?'0':datum.value==1?'10⁻³':datum.value+'×10⁻³'","title":"Flux [Photons/s/cm²/Angstrom]","titlePadding":6}},
    "yError":{"field":"e"}}},
  {"mark":{"type":"line","interpolate":"step","color":"#000","strokeWidth":1.4,"clip":true},"encoding":{"x":{"field":"w","type":"quantitative","axis":{"orient":"bottom","values":[2,2.5,3,3.5,4,4.5,5,5.5,6,6.5,7],"labels":false,"tickSize":-5,"title":null}},"y":{"field":"f","type":"quantitative","axis":{"orient":"left","values":[0,1,2,3],"labels":false,"tickSize":-5,"title":null}}}},
  {"mark":{"type":"line","strokeOpacity":0,"clip":true},"encoding":{"x":{"field":"w","type":"quantitative","axis":{"orient":"bottom","tickCount":50,"labels":false,"tickSize":-2.5,"title":null}},"y":{"field":"f","type":"quantitative","axis":{"orient":"left","tickCount":17,"labels":false,"tickSize":-2.5,"title":null}}}},
  {"mark":{"type":"line","strokeOpacity":0,"clip":true},"encoding":{"x":{"field":"w","type":"quantitative","axis":{"orient":"top","values":[2,2.5,3,3.5,4,4.5,5,5.5,6,6.5,7],"labels":false,"tickSize":-5,"title":null}},"y":{"field":"f","type":"quantitative","axis":{"orient":"right","values":[0,1,2,3],"labels":false,"tickSize":-5,"title":null}}}},
  {"mark":{"type":"line","strokeOpacity":0,"clip":true},"encoding":{"x":{"field":"w","type":"quantitative","axis":{"orient":"top","tickCount":50,"labels":false,"tickSize":-2.5,"title":null}},"y":{"field":"f","type":"quantitative","axis":{"orient":"right","tickCount":17,"labels":false,"tickSize":-2.5,"title":null}}}}
 ]},
{"width":586,"height":98,
 "transform":[{"filter":{"field":"w","range":[6.48,11.53]}}],
 "resolve":{"axis":{"x":"independent","y":"independent"}},
 "layer":[
  {"transform":[{"filter":{"field":"w","range":[6.5,11.5]}}],
   "mark":{"type":"errorbar","color":"#c8c8c8","thickness":1},
   "encoding":{
    "x":{"field":"w","type":"quantitative","scale":{"domain":[6.5,11.5],"nice":false,"zero":false},"axis":{"orient":"bottom","values":[6.5,7,7.5,8,8.5,9,9.5,10,10.5,11,11.5],"ticks":false,"labelPadding":3,"labelExpr":"''+datum.value","title":"Wavelength [Angstrom]","titlePadding":8}},
    "y":{"field":"f","type":"quantitative","scale":{"domain":[0,4.26],"nice":false,"zero":false},"axis":{"orient":"left","values":[0,1,2,3,4],"ticks":false,"labelAngle":270,"labelAlign":"center","labelBaseline":"bottom","labelPadding":2,"labelExpr":"datum.value==0?'0':datum.value==1?'10⁻³':datum.value+'×10⁻³'","title":"Flux [Photons/s/cm²/Angstrom]","titlePadding":6}},
    "yError":{"field":"e"}}},
  {"mark":{"type":"line","interpolate":"step","color":"#000","strokeWidth":1.4,"clip":true},"encoding":{"x":{"field":"w","type":"quantitative","axis":{"orient":"bottom","values":[6.5,7,7.5,8,8.5,9,9.5,10,10.5,11,11.5],"labels":false,"tickSize":-5,"title":null}},"y":{"field":"f","type":"quantitative","axis":{"orient":"left","values":[0,1,2,3,4],"labels":false,"tickSize":-5,"title":null}}}},
  {"mark":{"type":"line","strokeOpacity":0,"clip":true},"encoding":{"x":{"field":"w","type":"quantitative","axis":{"orient":"bottom","tickCount":50,"labels":false,"tickSize":-2.5,"title":null}},"y":{"field":"f","type":"quantitative","axis":{"orient":"left","tickCount":21,"labels":false,"tickSize":-2.5,"title":null}}}},
  {"mark":{"type":"line","strokeOpacity":0,"clip":true},"encoding":{"x":{"field":"w","type":"quantitative","axis":{"orient":"top","values":[6.5,7,7.5,8,8.5,9,9.5,10,10.5,11,11.5],"labels":false,"tickSize":-5,"title":null}},"y":{"field":"f","type":"quantitative","axis":{"orient":"right","values":[0,1,2,3,4],"labels":false,"tickSize":-5,"title":null}}}},
  {"mark":{"type":"line","strokeOpacity":0,"clip":true},"encoding":{"x":{"field":"w","type":"quantitative","axis":{"orient":"top","tickCount":50,"labels":false,"tickSize":-2.5,"title":null}},"y":{"field":"f","type":"quantitative","axis":{"orient":"right","tickCount":21,"labels":false,"tickSize":-2.5,"title":null}}}}
 ]},
{"width":586,"height":98,
 "transform":[{"filter":{"field":"w","range":[10.98,16.03]}}],
 "resolve":{"axis":{"x":"independent","y":"independent"}},
 "layer":[
  {"transform":[{"filter":{"field":"w","range":[11,16]}}],
   "mark":{"type":"errorbar","color":"#c8c8c8","thickness":1},
   "encoding":{
    "x":{"field":"w","type":"quantitative","scale":{"domain":[11,16],"nice":false,"zero":false},"axis":{"orient":"bottom","values":[11,11.5,12,12.5,13,13.5,14,14.5,15,15.5,16],"ticks":false,"labelPadding":3,"labelExpr":"''+datum.value","title":"Wavelength [Angstrom]","titlePadding":8}},
    "y":{"field":"f","type":"quantitative","scale":{"domain":[0,5.4],"nice":false,"zero":false},"axis":{"orient":"left","values":[0,2,4],"ticks":false,"labelAngle":270,"labelAlign":"center","labelBaseline":"bottom","labelPadding":2,"labelExpr":"datum.value==0?'0':datum.value==1?'10⁻³':datum.value+'×10⁻³'","title":"Flux [Photons/s/cm²/Angstrom]","titlePadding":6}},
    "yError":{"field":"e"}}},
  {"mark":{"type":"line","interpolate":"step","color":"#000","strokeWidth":1.4,"clip":true},"encoding":{"x":{"field":"w","type":"quantitative","axis":{"orient":"bottom","values":[11,11.5,12,12.5,13,13.5,14,14.5,15,15.5,16],"labels":false,"tickSize":-5,"title":null}},"y":{"field":"f","type":"quantitative","axis":{"orient":"left","values":[0,2,4],"labels":false,"tickSize":-5,"title":null}}}},
  {"mark":{"type":"line","strokeOpacity":0,"clip":true},"encoding":{"x":{"field":"w","type":"quantitative","axis":{"orient":"bottom","tickCount":50,"labels":false,"tickSize":-2.5,"title":null}},"y":{"field":"f","type":"quantitative","axis":{"orient":"left","tickCount":5,"labels":false,"tickSize":-2.5,"title":null}}}},
  {"mark":{"type":"line","strokeOpacity":0,"clip":true},"encoding":{"x":{"field":"w","type":"quantitative","axis":{"orient":"top","values":[11,11.5,12,12.5,13,13.5,14,14.5,15,15.5,16],"labels":false,"tickSize":-5,"title":null}},"y":{"field":"f","type":"quantitative","axis":{"orient":"right","values":[0,2,4],"labels":false,"tickSize":-5,"title":null}}}},
  {"mark":{"type":"line","strokeOpacity":0,"clip":true},"encoding":{"x":{"field":"w","type":"quantitative","axis":{"orient":"top","tickCount":50,"labels":false,"tickSize":-2.5,"title":null}},"y":{"field":"f","type":"quantitative","axis":{"orient":"right","tickCount":5,"labels":false,"tickSize":-2.5,"title":null}}}}
 ]},
{"width":586,"height":98,
 "transform":[{"filter":{"field":"w","range":[15.48,20.53]}}],
 "resolve":{"axis":{"x":"independent","y":"independent"}},
 "layer":[
  {"transform":[{"filter":{"field":"w","range":[15.5,20.5]}}],
   "mark":{"type":"errorbar","color":"#c8c8c8","thickness":1},
   "encoding":{
    "x":{"field":"w","type":"quantitative","scale":{"domain":[15.5,20.5],"nice":false,"zero":false},"axis":{"orient":"bottom","values":[15.5,16,16.5,17,17.5,18,18.5,19,19.5,20,20.5],"ticks":false,"labelPadding":3,"labelExpr":"''+datum.value","title":"Wavelength [Angstrom]","titlePadding":8}},
    "y":{"field":"f","type":"quantitative","scale":{"domain":[0,5.4],"nice":false,"zero":false},"axis":{"orient":"left","values":[0,2,4],"ticks":false,"labelAngle":270,"labelAlign":"center","labelBaseline":"bottom","labelPadding":2,"labelExpr":"datum.value==0?'0':datum.value==1?'10⁻³':datum.value+'×10⁻³'","title":"Flux [Photons/s/cm²/Angstrom]","titlePadding":6}},
    "yError":{"field":"e"}}},
  {"mark":{"type":"line","interpolate":"step","color":"#000","strokeWidth":1.4,"clip":true},"encoding":{"x":{"field":"w","type":"quantitative","axis":{"orient":"bottom","values":[15.5,16,16.5,17,17.5,18,18.5,19,19.5,20,20.5],"labels":false,"tickSize":-5,"title":null}},"y":{"field":"f","type":"quantitative","axis":{"orient":"left","values":[0,2,4],"labels":false,"tickSize":-5,"title":null}}}},
  {"mark":{"type":"line","strokeOpacity":0,"clip":true},"encoding":{"x":{"field":"w","type":"quantitative","axis":{"orient":"bottom","tickCount":50,"labels":false,"tickSize":-2.5,"title":null}},"y":{"field":"f","type":"quantitative","axis":{"orient":"left","tickCount":5,"labels":false,"tickSize":-2.5,"title":null}}}},
  {"mark":{"type":"line","strokeOpacity":0,"clip":true},"encoding":{"x":{"field":"w","type":"quantitative","axis":{"orient":"top","values":[15.5,16,16.5,17,17.5,18,18.5,19,19.5,20,20.5],"labels":false,"tickSize":-5,"title":null}},"y":{"field":"f","type":"quantitative","axis":{"orient":"right","values":[0,2,4],"labels":false,"tickSize":-5,"title":null}}}},
  {"mark":{"type":"line","strokeOpacity":0,"clip":true},"encoding":{"x":{"field":"w","type":"quantitative","axis":{"orient":"top","tickCount":50,"labels":false,"tickSize":-2.5,"title":null}},"y":{"field":"f","type":"quantitative","axis":{"orient":"right","tickCount":5,"labels":false,"tickSize":-2.5,"title":null}}}}
 ]},
{"width":586,"height":98,
 "transform":[{"filter":{"field":"w","range":[19.98,25.06]}}],
 "resolve":{"axis":{"x":"independent","y":"independent"}},
 "layer":[
  {"transform":[{"filter":{"field":"w","range":[20,25]}}],
   "mark":{"type":"errorbar","color":"#c8c8c8","thickness":1},
   "encoding":{
    "x":{"field":"w","type":"quantitative","scale":{"domain":[20,25],"nice":false,"zero":false},"axis":{"orient":"bottom","values":[20,20.5,21,21.5,22,22.5,23,23.5,24,24.5,25],"ticks":false,"labelPadding":3,"labelExpr":"''+datum.value","title":"Wavelength [Angstrom]","titlePadding":8}},
    "y":{"field":"f","type":"quantitative","scale":{"domain":[0,5.4],"nice":false,"zero":false},"axis":{"orient":"left","values":[0,2,4],"ticks":false,"labelAngle":270,"labelAlign":"center","labelBaseline":"bottom","labelPadding":2,"labelExpr":"datum.value==0?'0':datum.value==1?'10⁻³':datum.value+'×10⁻³'","title":"Flux [Photons/s/cm²/Angstrom]","titlePadding":6}},
    "yError":{"field":"e"}}},
  {"mark":{"type":"line","interpolate":"step","color":"#000","strokeWidth":1.4,"clip":true},"encoding":{"x":{"field":"w","type":"quantitative","axis":{"orient":"bottom","values":[20,20.5,21,21.5,22,22.5,23,23.5,24,24.5,25],"labels":false,"tickSize":-5,"title":null}},"y":{"field":"f","type":"quantitative","axis":{"orient":"left","values":[0,2,4],"labels":false,"tickSize":-5,"title":null}}}},
  {"mark":{"type":"line","strokeOpacity":0,"clip":true},"encoding":{"x":{"field":"w","type":"quantitative","axis":{"orient":"bottom","tickCount":50,"labels":false,"tickSize":-2.5,"title":null}},"y":{"field":"f","type":"quantitative","axis":{"orient":"left","tickCount":5,"labels":false,"tickSize":-2.5,"title":null}}}},
  {"mark":{"type":"line","strokeOpacity":0,"clip":true},"encoding":{"x":{"field":"w","type":"quantitative","axis":{"orient":"top","values":[20,20.5,21,21.5,22,22.5,23,23.5,24,24.5,25],"labels":false,"tickSize":-5,"title":null}},"y":{"field":"f","type":"quantitative","axis":{"orient":"right","values":[0,2,4],"labels":false,"tickSize":-5,"title":null}}}},
  {"mark":{"type":"line","strokeOpacity":0,"clip":true},"encoding":{"x":{"field":"w","type":"quantitative","axis":{"orient":"top","tickCount":50,"labels":false,"tickSize":-2.5,"title":null}},"y":{"field":"f","type":"quantitative","axis":{"orient":"right","tickCount":5,"labels":false,"tickSize":-2.5,"title":null}}}}
 ]}
]
}
